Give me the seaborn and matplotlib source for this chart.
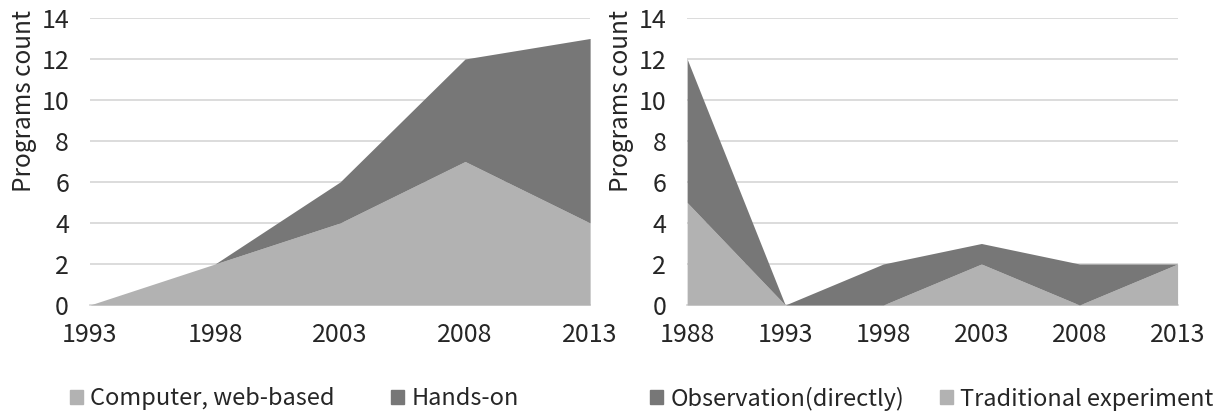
import matplotlib
matplotlib.use("Agg")
import matplotlib.pyplot as plt
import seaborn as sns
from matplotlib.patches import Patch

# Left chart data
years_left = [1993, 1998, 2003, 2008, 2013]
computer_web = [0, 2, 4, 7, 4]
hands_on = [0, 0, 2, 5, 9]

# Right chart data
years_right = [1988, 1993, 1998, 2003, 2008, 2013]
traditional = [5, 0, 0, 2, 0, 2]
observation = [7, 0, 2, 1, 2, 0]

LIGHT = "#b2b2b2"
DARK = "#777777"
GRID = "#d9d9d9"

sns.set_style("white")
plt.rcParams["font.family"] = ["Noto Sans CJK KR", "DejaVu Sans"]

fig = plt.figure(figsize=(12.14, 4.13), dpi=100)
ax1 = fig.add_axes([0.0741, 0.2615, 0.412, 0.695])
ax2 = fig.add_axes([0.566, 0.2615, 0.404, 0.695])


def style_axes(ax, years):
    ax.set_xlim(years[0], years[-1])
    ax.set_ylim(0, 14)
    ax.set_yticks(range(0, 15, 2))
    ax.set_xticks(years)
    ax.yaxis.grid(True, color=GRID, linewidth=1.3)
    ax.set_axisbelow(True)
    for s in ["top", "right", "left"]:
        ax.spines[s].set_visible(False)
    ax.spines["bottom"].set_color(GRID)
    ax.spines["bottom"].set_linewidth(1.3)
    ax.spines["bottom"].set_zorder(0.5)
    ax.tick_params(axis="x", direction="out", length=6, color=GRID, width=1.3,
                   labelsize=18, pad=6)
    ax.tick_params(axis="y", length=0, labelsize=18, pad=15)
    # label sits in the upper part of the axis, as in the original
    ax.set_ylabel("Programs count", fontsize=17.5, labelpad=3, y=0.71)


ax1.stackplot(years_left, computer_web, hands_on, colors=[LIGHT, DARK], linewidth=0, zorder=2)
style_axes(ax1, years_left)

ax2.stackplot(years_right, traditional, observation, colors=[LIGHT, DARK], linewidth=0, zorder=2)
style_axes(ax2, years_right)

leg_kw = dict(loc="center left", ncol=2, frameon=False, fontsize=17, handlelength=0.55,
              handleheight=0.55, handletextpad=0.3, borderaxespad=0)
fig.legend([Patch(color=LIGHT), Patch(color=DARK)], ["Computer, web-based", "Hands-on"],
           bbox_to_anchor=(0.050, 0.035), columnspacing=2.4, **leg_kw)
fig.legend([Patch(color=DARK), Patch(color=LIGHT)], ["Observation(directly)", "Traditional experiment"],
           bbox_to_anchor=(0.528, 0.035), columnspacing=1.5, **leg_kw)

fig.savefig("out.png", dpi=100)
